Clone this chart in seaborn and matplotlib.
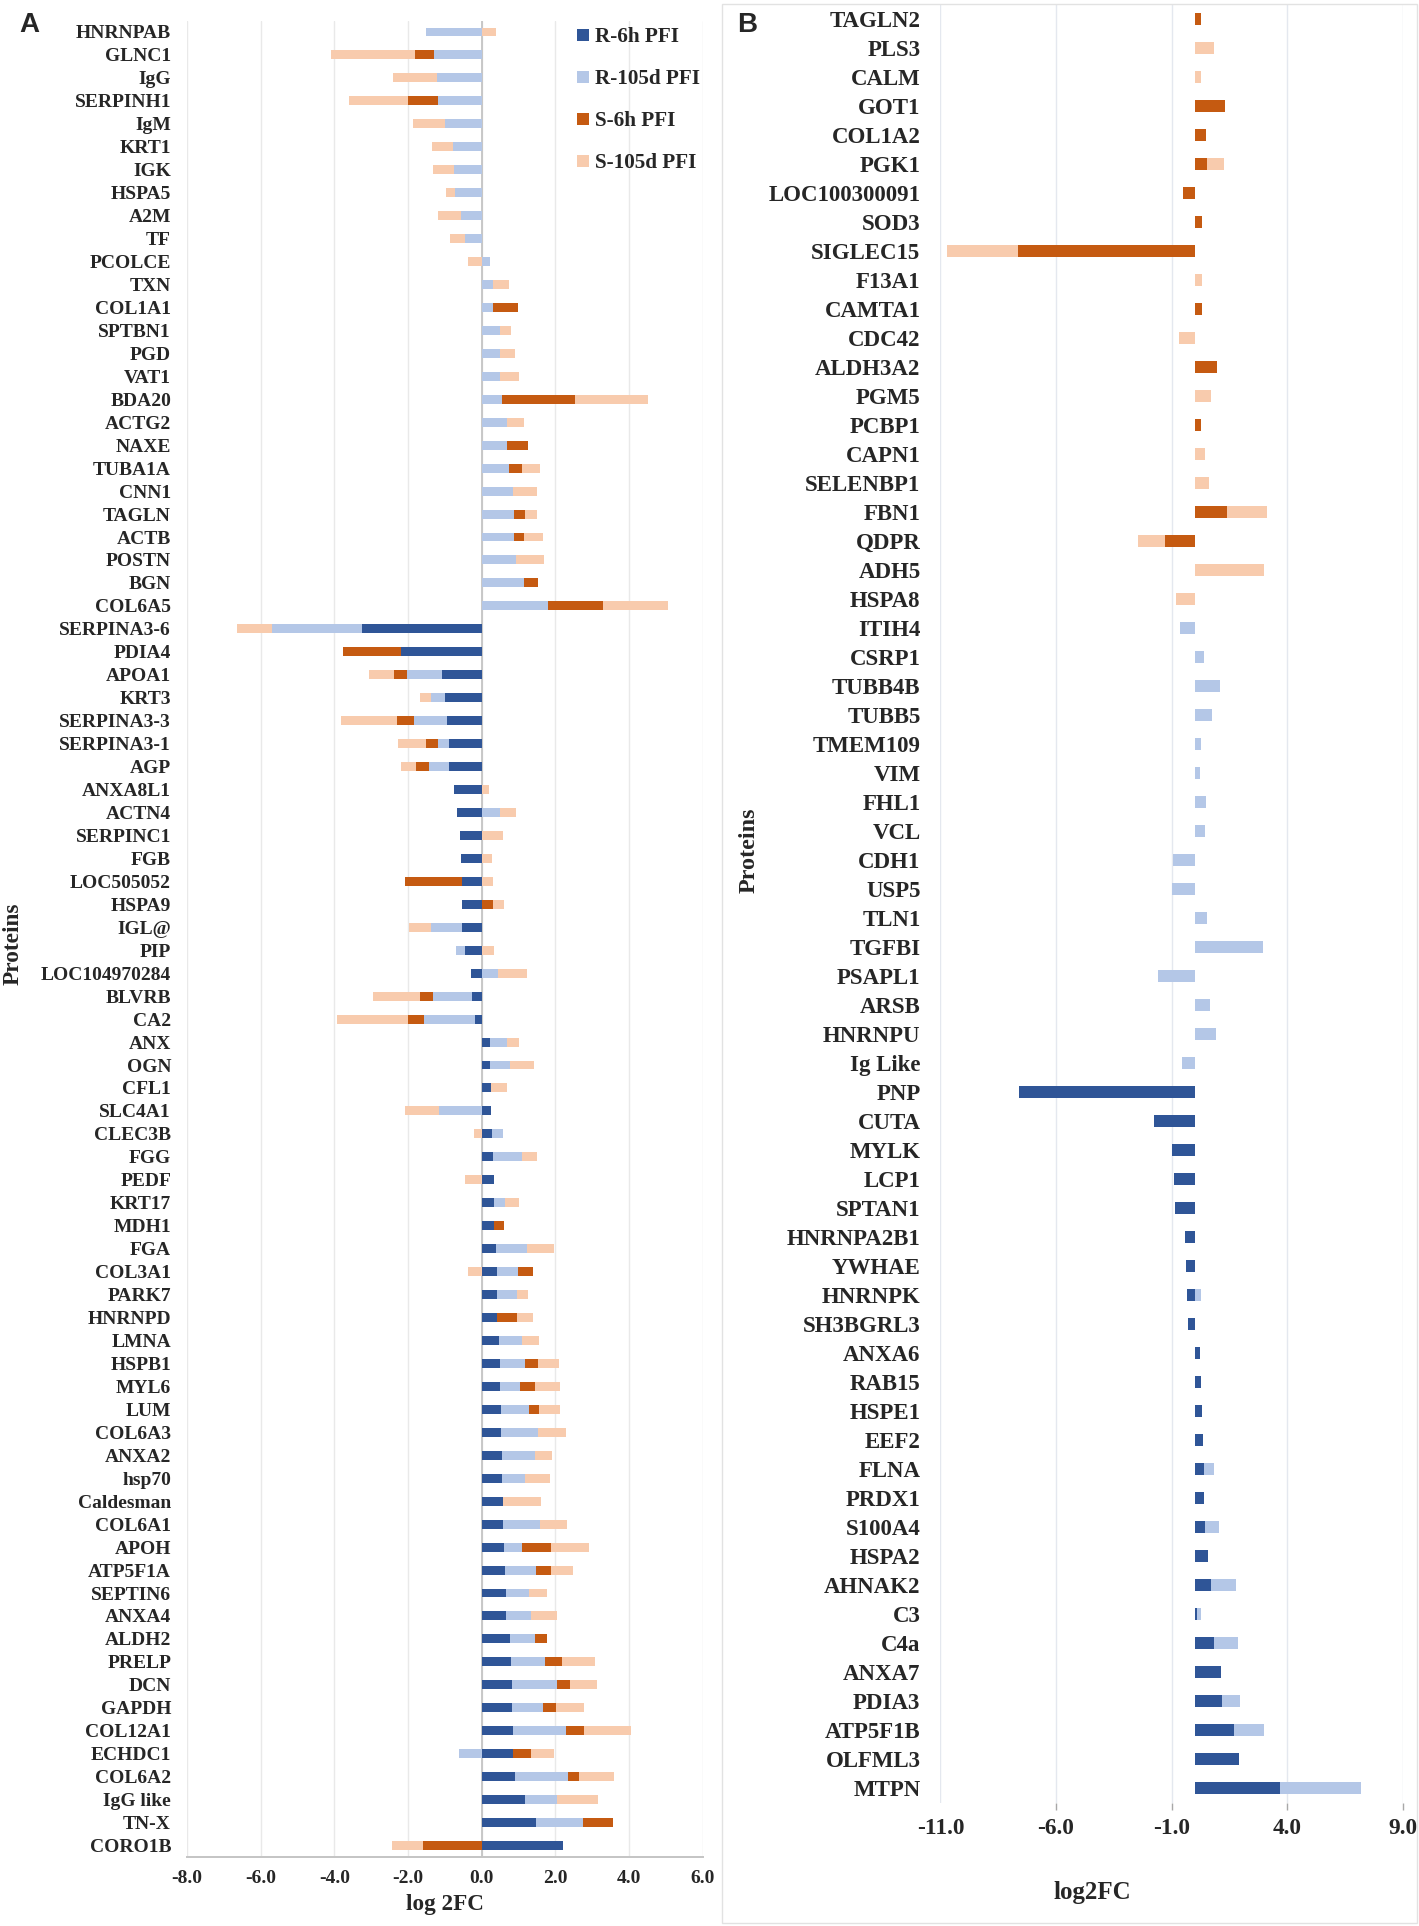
import numpy as np
import pandas as pd
import matplotlib
matplotlib.use("Agg")
import matplotlib.pyplot as plt
import seaborn as sns
from matplotlib.patches import Patch, Rectangle

# ---------------- data ----------------
SERIES = ["R-6h PFI", "R-105d PFI", "S-6h PFI", "S-105d PFI"]
COLORS = ["#2F5597", "#B4C7E7", "#C55A11", "#F8CBAD"]

proteins_a = ["HNRNPAB", "GLNC1", "IgG", "SERPINH1", "IgM", "KRT1", "IGK", "HSPA5", "A2M", "TF",
              "PCOLCE", "TXN", "COL1A1", "SPTBN1", "PGD", "VAT1", "BDA20", "ACTG2", "NAXE", "TUBA1A",
              "CNN1", "TAGLN", "ACTB", "POSTN", "BGN", "COL6A5", "SERPINA3-6", "PDIA4", "APOA1", "KRT3",
              "SERPINA3-3", "SERPINA3-1", "AGP", "ANXA8L1", "ACTN4", "SERPINC1", "FGB", "LOC505052", "HSPA9", "IGL@",
              "PIP", "LOC104970284", "BLVRB", "CA2", "ANX", "OGN", "CFL1", "SLC4A1", "CLEC3B", "FGG",
              "PEDF", "KRT17", "MDH1", "FGA", "COL3A1", "PARK7", "HNRNPD", "LMNA", "HSPB1", "MYL6",
              "LUM", "COL6A3", "ANXA2", "hsp70", "Caldesman", "COL6A1", "APOH", "ATP5F1A", "SEPTIN6", "ANXA4",
              "ALDH2", "PRELP", "DCN", "GAPDH", "COL12A1", "ECHDC1", "COL6A2", "IgG like", "TN-X", "CORO1B"]

r6h_a = [0, 0, 0, 0, 0, 0, 0, 0, 0, 0,
         0, 0, 0, 0, 0, 0, 0, 0, 0, 0,
         0, 0, 0, 0, 0, 0, -3.26, -2.19, -1.08, -0.98,
         -0.94, -0.89, -0.89, -0.74, -0.66, -0.59, -0.56, -0.54, -0.53, -0.53,
         -0.44, -0.29, -0.26, -0.18, 0.23, 0.23, 0.25, 0.25, 0.28, 0.31,
         0.33, 0.34, 0.34, 0.39, 0.41, 0.41, 0.43, 0.46, 0.51, 0.51,
         0.54, 0.54, 0.55, 0.56, 0.59, 0.59, 0.60, 0.64, 0.65, 0.65,
         0.78, 0.80, 0.83, 0.83, 0.85, 0.86, 0.91, 1.19, 1.48, 2.20]

r105d_a = [-1.52, -1.28, -1.22, -1.19, -0.99, -0.78, -0.75, -0.72, -0.55, -0.45,
           0.24, 0.30, 0.31, 0.50, 0.51, 0.51, 0.56, 0.69, 0.70, 0.74,
           0.84, 0.88, 0.88, 0.94, 1.15, 1.80, -2.44, 0, -0.94, -0.39,
           -0.90, -0.28, -0.55, 0, 0.49, 0, 0, 0, 0, -0.85,
           -0.25, 0.45, -1.05, -1.38, 0.45, 0.54, 0, -1.15, 0.29, 0.79,
           0, 0.30, 0, 0.85, 0.59, 0.56, 0, 0.65, 0.66, 0.54,
           0.75, 1.00, 0.89, 0.63, 0, 0.99, 0.50, 0.84, 0.63, 0.70,
           0.68, 0.93, 1.21, 0.84, 1.44, -0.61, 1.43, 0.86, 1.28, 0]

s6h_a = [0, -0.52, 0, -0.81, 0, 0, 0, 0, 0, 0,
         0, 0, 0.69, 0, 0, 0, 1.99, 0, 0.55, 0.35,
         0, 0.30, 0.26, 0, 0.39, 1.51, 0, -1.58, -0.36, 0,
         -0.45, -0.34, -0.33, 0, 0, 0, 0, -1.53, 0.31, 0,
         0, 0, -0.35, -0.43, 0, 0, 0, 0, 0, 0,
         0, 0, 0.26, 0, 0.41, 0, 0.54, 0, 0.35, 0.41,
         0.28, 0, 0, 0, 0, 0, 0.78, 0.41, 0, 0,
         0.31, 0.45, 0.35, 0.36, 0.48, 0.49, 0.30, 0, 0.80, -1.58]

s105d_a = [0.40, -2.30, -1.18, -1.59, -0.86, -0.57, -0.56, -0.25, -0.62, -0.41,
           -0.38, 0.44, 0, 0.31, 0.40, 0.52, 1.96, 0.45, 0, 0.50,
           0.66, 0.33, 0.54, 0.76, 0, 1.76, -0.93, 0, -0.68, -0.29,
           -1.53, -0.76, -0.41, 0.20, 0.45, 0.59, 0.29, 0.31, 0.31, -0.59,
           0.34, 0.78, -1.29, -1.94, 0.34, 0.65, 0.44, -0.94, -0.20, 0.40,
           -0.44, 0.39, 0, 0.73, -0.38, 0.29, 0.44, 0.45, 0.58, 0.66,
           0.55, 0.74, 0.46, 0.66, 1.03, 0.75, 1.03, 0.59, 0.51, 0.71,
           0, 0.89, 0.75, 0.75, 1.28, 0.63, 0.96, 1.11, 0, -0.86]

proteins_b = ["TAGLN2", "PLS3", "CALM", "GOT1", "COL1A2", "PGK1", "LOC100300091", "SOD3", "SIGLEC15", "F13A1",
              "CAMTA1", "CDC42", "ALDH3A2", "PGM5", "PCBP1", "CAPN1", "SELENBP1", "FBN1", "QDPR", "ADH5",
              "HSPA8", "ITIH4", "CSRP1", "TUBB4B", "TUBB5", "TMEM109", "VIM", "FHL1", "VCL", "CDH1",
              "USP5", "TLN1", "TGFBI", "PSAPL1", "ARSB", "HNRNPU", "Ig Like", "PNP", "CUTA", "MYLK",
              "LCP1", "SPTAN1", "HNRNPA2B1", "YWHAE", "HNRNPK", "SH3BGRL3", "ANXA6", "RAB15", "HSPE1", "EEF2",
              "FLNA", "PRDX1", "S100A4", "HSPA2", "AHNAK2", "C3", "C4a", "ANXA7", "PDIA3", "ATP5F1B",
              "OLFML3", "MTPN"]

r6h_b = [0] * 37 + [-7.61, -1.78, -1.00,
                    -0.91, -0.87, -0.44, -0.39, -0.33, -0.31, 0.23, 0.27, 0.31, 0.35,
                    0.39, 0.41, 0.42, 0.56, 0.69, 0.10, 0.83, 1.14, 1.16, 1.70,
                    1.91, 3.67]

r105d_b = [0] * 21 + [-0.64, 0.41, 1.10, 0.75, 0.27, 0.23, 0.48, 0.44, -0.95,
                      -0.98, 0.54, 2.95, -1.58, 0.66, 0.93, -0.56, 0, 0, 0,
                      0, 0, 0, 0, 0.25, 0, 0, 0, 0, 0,
                      0.42, 0, 0.62, 0, 1.08, 0.17, 1.04, 0, 0.81, 1.27,
                      0, 3.53]

s6h_b = [0.25, 0, 0, 1.29, 0.50, 0.54, -0.52, 0.31, -7.63, 0,
         0.29, 0, 0.98, 0, 0.25, 0, 0, 1.37, -1.27, 0] + [0] * 42

s105d_b = [0, 0.81, 0.25, 0, 0, 0.71, 0, 0, -3.09, 0.31,
           0, -0.68, 0, 0.69, 0, 0.42, 0.62, 1.76, -1.18, 3.01,
           -0.83] + [0] * 41

xticks_a = [-8.0, -6.0, -4.0, -2.0, 0.0, 2.0, 4.0, 6.0]
xticks_b = [-11.0, -6.0, -1.0, 4.0, 9.0]

# ---------------- style ----------------
sns.set_theme(style="white")
plt.rcParams["font.family"] = ["Liberation Serif", "DejaVu Serif"]
plt.rcParams["font.weight"] = "bold"
plt.rcParams["axes.labelweight"] = "bold"

W, H = 1419, 1926
fig = plt.figure(figsize=(W / 100, H / 100), dpi=100)


def frac_box(left, right, top, bottom):
    return [left / W, 1 - bottom / H, (right - left) / W, (bottom - top) / H]


ax_a = fig.add_axes(frac_box(187, 702.5, 20.5, 1857))
ax_b = fig.add_axes(frac_box(940.4, 1403, 4.5, 1802.5))


def stacked(ax, proteins, series_vals, height):
    df = pd.DataFrame({"protein": proteins})
    for s, v in zip(SERIES, series_vals):
        df[s] = v
    pos = df[SERIES].clip(lower=0).cumsum(axis=1)
    neg = df[SERIES].clip(upper=0).cumsum(axis=1)
    for s, c in reversed(list(zip(SERIES, COLORS))):
        for cum in (pos, neg):
            sns.barplot(x=cum[s].values, y=df["protein"], order=proteins, orient="h",
                        color=c, width=height, errorbar=None, linewidth=0,
                        saturation=1, ax=ax)
    ax.set_ylim(len(proteins) - 0.5, -0.5)


stacked(ax_a, proteins_a, [r6h_a, r105d_a, s6h_a, s105d_a], 0.39)
stacked(ax_b, proteins_b, [r6h_b, r105d_b, s6h_b, s105d_b], 0.39)

# ---- panel A axes ----
ax_a.set_xlim(-8, 6)
ax_a.set_xticks(xticks_a)
ax_a.set_xticklabels([f"{v:.1f}" for v in xticks_a])
ax_a.grid(axis="x", color="#e9e9e9", lw=1)
ax_a.grid(axis="y", visible=False)
ax_a.set_axisbelow(True)
ax_a.axvline(0, color="#c4c4c4", lw=1.3, zorder=0.8)
for sp in ["top", "right", "left"]:
    ax_a.spines[sp].set_visible(False)
ax_a.spines["bottom"].set_color("#c4c4c4")
ax_a.spines["bottom"].set_linewidth(1.4)
ax_a.tick_params(axis="x", length=0, pad=9, labelsize=14)
ax_a.tick_params(axis="y", length=0, pad=11.5, labelsize=14)
ax_a.set_xlabel("log 2FC", fontsize=16.7, fontweight="bold", va="center")
ax_a.xaxis.set_label_coords(0.5005, -0.0261)
ax_a.set_ylabel("Proteins", fontsize=16.8, fontweight="bold", va="center", ha="center")
ax_a.yaxis.set_label_coords(-0.3383, 0.4971)

# ---- panel B axes ----
ax_b.set_xlim(-11, 9)
ax_b.set_xticks(xticks_b)
ax_b.set_xticklabels([f"{v:.1f}" for v in xticks_b])
ax_b.grid(axis="x", color="#e4e8ef", lw=1)
ax_b.grid(axis="y", visible=False)
ax_b.set_axisbelow(True)
for sp in ["top", "right", "left", "bottom"]:
    ax_b.spines[sp].set_visible(False)
ax_b.tick_params(axis="x", bottom=True, length=5, width=1, color="#a8a8a8", pad=6.5, labelsize=16.8)
ax_b.tick_params(axis="y", length=0, pad=14.3, labelsize=16.5)
ax_b.xaxis.get_major_ticks()[0].tick1line.set_visible(False)
ax_b.set_xlabel("log2FC", fontsize=17.9, fontweight="bold", va="center")
ax_b.xaxis.set_label_coords(0.3277, -0.0498)
ax_b.set_ylabel("Proteins", fontsize=17.4, fontweight="bold", va="center", ha="center")
ax_b.yaxis.set_label_coords(-0.4138, 0.5298)

# light border around panel B chart area
fig.add_artist(Rectangle((722 / W, 3 / H), (1417 - 722) / W, (1922 - 3) / H,
                         transform=fig.transFigure, fill=False, edgecolor="#e2e2e2", lw=1))

# ---- legend ----
handles = [Patch(facecolor=c, edgecolor="none") for c in COLORS]
fig.legend(handles, SERIES, loc="upper left", bbox_to_anchor=(577 / W, 1 - 27.5 / H),
           frameon=False, handlelength=0.55, handleheight=0.55,
           handletextpad=0.3, labelspacing=1.04, borderpad=0, borderaxespad=0,
           prop={"family": ["Liberation Serif"], "weight": "bold", "size": 15.2})

# ---- panel letters ----
fig.text(29 / W, 1 - 25 / H, "A", ha="center", va="center", fontsize=20,
         fontweight="bold", family=["Liberation Sans", "DejaVu Sans"])
fig.text(747 / W, 1 - 25 / H, "B", ha="center", va="center", fontsize=20,
         fontweight="bold", family=["Liberation Sans", "DejaVu Sans"])

fig.savefig("out.png", dpi=100, facecolor="white")
